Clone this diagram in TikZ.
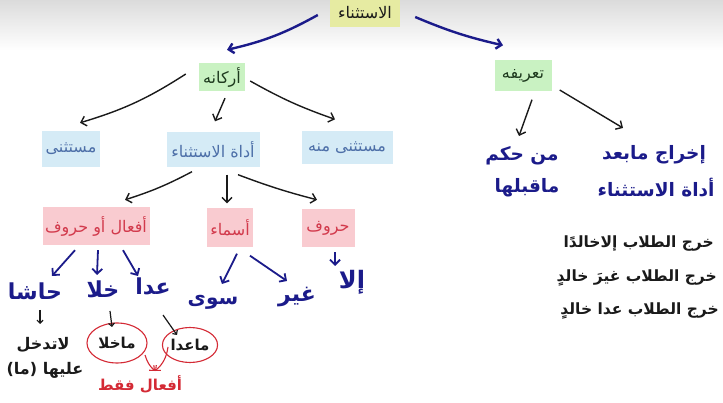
\documentclass[tikz,border=0pt]{standalone}
\usepackage{fontspec}
\newfontfamily\arfont[Script=Arabic]{DejaVu Sans}
\TeXXeTstate=1
\usetikzlibrary{arrows.meta,shapes.geometric}
\newcommand{\artx}[1]{\arfont\beginR #1\endR}
\definecolor{ytop}{HTML}{E6EBA2}
\definecolor{gbox}{HTML}{C9F2C2}
\definecolor{bbox}{HTML}{D5EBF6}
\definecolor{btext}{HTML}{4D6FA8}
\definecolor{pbox}{HTML}{F9CBD0}
\definecolor{ptext}{HTML}{D23A4C}
\definecolor{navy}{HTML}{1B1B8A}
\definecolor{rred}{HTML}{D42A35}
\definecolor{gtext}{HTML}{1E3A1E}
\definecolor{ink}{HTML}{1A1A1A}
\begin{document}
\begin{tikzpicture}[x=1pt,y=-1pt,
  box/.style={inner sep=0pt, align=center},
  topbox/.style={box, fill=ytop, text=ink, font=\fontsize{16}{18}\selectfont},
  gbx/.style={box, fill=gbox, text=gtext, font=\fontsize{16}{18}\selectfont},
  bbx/.style={box, fill=bbox, text=btext, font=\fontsize{16}{18}\selectfont},
  pbx/.style={box, fill=pbox, text=ptext, font=\fontsize{16}{18}\selectfont},
  hand/.style={inner sep=0pt, text=navy, font=\fontsize{22}{24}\selectfont\bfseries},
  handr/.style={inner sep=0pt, text=navy, font=\fontsize{18.5}{20}\selectfont\bfseries},
  handk/.style={inner sep=0pt, text=ink, font=\fontsize{16}{18}\selectfont\bfseries},
  sent/.style={handk, anchor=east, font=\fontsize{15.5}{18}\selectfont\bfseries},
  handred/.style={inner sep=0pt, text=rred, font=\fontsize{15}{17}\selectfont\bfseries},
  circ/.style={draw=rred, line width=1.1pt, ellipse},
  arr/.style={-{Straight Barb[length=5pt,width=10pt]}, line width=1.4pt, ink},
  barr/.style={arr, navy, line width=2.4pt},
  sarr/.style={arr, line width=1.2pt, -{Straight Barb[length=3pt,width=6pt]}},
  rarr/.style={arr, rred, line width=1.1pt, -{Straight Barb[length=4pt,width=7pt]}}
]
\useasboundingbox (0,0) rectangle (723,403);
\fill[white] (0,0) rectangle (723,403);
\shade[top color=black!14, bottom color=white] (0,0) rectangle (723,50);

% boxes
\node[topbox, minimum width=70pt, minimum height=28pt] (top) at (365,13) {\artx{الاستثناء}};
\node[gbx, minimum width=46pt, minimum height=28pt] (ark) at (222,77) {\artx{أركانه}};
\node[gbx, minimum width=57pt, minimum height=31pt] (tar) at (523,76) {\artx{تعريفه}};
\node[bbx, minimum width=58pt, minimum height=36pt] (mus) at (71,149) {\artx{مستثنى}};
\node[bbx, minimum width=93pt, minimum height=35pt] (adah) at (213,150) {\artx{أداة الاستثناء}};
\node[bbx, minimum width=91pt, minimum height=33pt] (minh) at (347,148) {\artx{مستثنى منه}};
\node[pbx, minimum width=107pt, minimum height=38pt] (afal) at (96,226) {\artx{أفعال أو حروف}};
\node[pbx, minimum width=46pt, minimum height=39pt] (asma) at (230,228) {\artx{أسماء}};
\node[pbx, minimum width=53pt, minimum height=38pt] (huruf) at (328,228) {\artx{حروف}};

% handwritten words
\node[hand] (hasha) at (35,291) {\artx{حاشا}};
\node[hand] (khala) at (103,289) {\artx{خلا}};
\node[hand] (ada) at (153,286) {\artx{عدا}};
\node[hand, font=\fontsize{20}{22}\selectfont\bfseries] (siwa) at (213,302) {\artx{سوى}};
\node[hand] (ghayr) at (297,297) {\artx{غير}};
\node[hand, font=\fontsize{24}{26}\selectfont\bfseries] (illa) at (352,282) {\artx{إلا}};

\node[handk] (latad) at (43,345) {\artx{لاتدخل}};
\node[handk] (alayha) at (45,370) {\artx{عليها (ما)}};
\node[handk, font=\fontsize{15}{17}\selectfont\bfseries, circ, minimum width=60pt, minimum height=40pt, inner sep=0pt] (makhala) at (117,343) {\artx{ماخلا}};
\node[handk, font=\fontsize{15}{17}\selectfont\bfseries, circ, minimum width=46pt, minimum height=35pt, inner sep=0pt] (maada) at (190,345) {\artx{ماعدا}};
\node[handred] (faqat) at (140,384) {\artx{أفعال فقط}};

% right side definition
\node[handr] (hukm) at (522,156) {\artx{من حكم}};
\node[handr] (qabl) at (527,188) {\artx{ماقبلها}};
\node[handr] (ikhraj) at (654,155) {\artx{إخراج مابعد}};
\node[handr] (adah2) at (656,188) {\artx{أداة الاستثناء}};

\node[sent] (s1) at (714,244) {\artx{خرج الطلاب إلاخالدًا}};
\node[sent] (s2) at (717,278) {\artx{خرج الطلاب غيرَ خالدٍ}};
\node[sent] (s3) at (719,311) {\artx{خرج الطلاب عدا خالدٍ}};

% blue top arrows
\draw[barr] ([shift={(-12,2)}]top.west) to[bend left=8] ([shift={(5,-13)}]ark.north);
\draw[barr] ([shift={(15,4)}]top.east) to[bend right=5] ([shift={(-20,-15)}]tar.north);

% black arrows
\draw[arr] ([shift={(-13,-3)}]ark.west) to[bend left=8] ([shift={(9,-8)}]mus.north);
\draw[arr] ([shift={(3,7)}]ark.south) -- ([shift={(2,-11)}]adah.north);
\draw[arr] ([shift={(5,4)}]ark.east) to[bend right=5] ([shift={(-12,-12)}]minh.north);
\draw[arr] ([shift={(9,8)}]tar.south) -- ([shift={(-3,-20)}]hukm.center);
\draw[arr] ([shift={(8,14)}]tar.east) -- ([shift={(-31,-27)}]ikhraj.center);
\draw[arr] ([shift={(-21,4)}]adah.south) to[bend left=5] ([shift={(29,-7)}]afal.north);
\draw[arr] ([shift={(14,7)}]adah.south) -- ([shift={(-3,-5)}]asma.north);
\draw[arr] ([shift={(25,7)}]adah.south) to[bend right=3] ([shift={(-11,-9)}]huruf.north);

% blue short arrows
\draw[barr, line width=1.8pt] ([shift={(-21,5)}]afal.south) -- ([shift={(17,-15)}]hasha.center);
\draw[barr, line width=1.8pt] ([shift={(2,5)}]afal.south) -- ([shift={(-6,-14)}]khala.center);
\draw[barr, line width=1.8pt] ([shift={(27,5)}]afal.south) -- ([shift={(-15,-10)}]ada.center);
\draw[barr, line width=1.8pt] ([shift={(7,6)}]asma.south) -- ([shift={(9,-18)}]siwa.center);
\draw[barr, line width=1.8pt] ([shift={(20,8)}]asma.south) -- ([shift={(-10,-16)}]ghayr.center);
\draw[barr, line width=1.8pt] ([shift={(7,5)}]huruf.south) -- ([shift={(-17,-16)}]illa.center);

% small black arrows
\draw[sarr] ([shift={(5,19)}]hasha.center) -- ([shift={(-3,-21)}]latad.center);
\draw[sarr] ([shift={(7,22)}]khala.center) -- ([shift={(-5,-16)}]makhala.center);
\draw[sarr] ([shift={(10,29)}]ada.center) -- ([shift={(-13,-10)}]maada.center);

% red arrows
\draw[rarr] ([shift={(28,12)}]makhala.center) to[bend right=15] ([shift={(15,-13)}]faqat.center);
\draw[rarr] ([shift={(-22,2)}]maada.center) to[bend left=20] ([shift={(15,-13)}]faqat.center);
\end{tikzpicture}
\end{document}
